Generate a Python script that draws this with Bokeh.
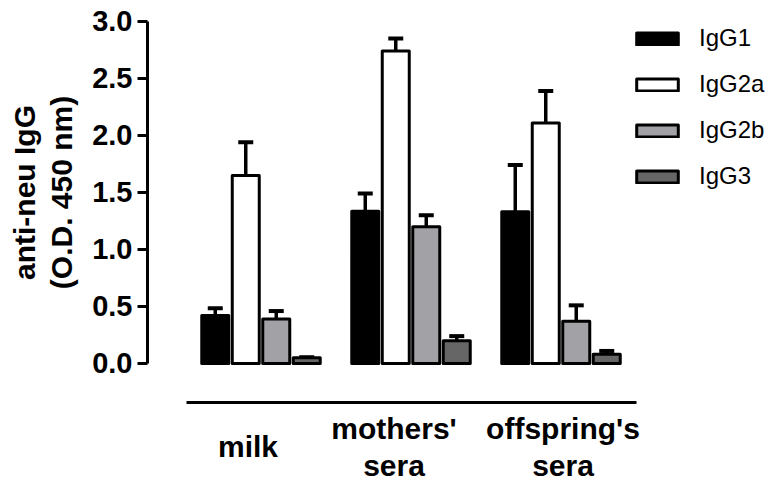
import numpy as np
from bokeh.plotting import figure
from bokeh.models import (ColumnDataSource, FixedTicker, Range1d, Whisker, TeeHead,
                          Legend, LegendItem, NumeralTickFormatter)
from bokeh.embed import file_html
from bokeh.resources import INLINE

# sample groups and IgG subclasses
groups = ["milk", "mothers'\nsera", "offspring's\nsera"]
isotypes = ["IgG1", "IgG2a", "IgG2b", "IgG3"]

# mean O.D. at 450 nm per group (milk, mothers' sera, offspring's sera)
igg1 = [0.42, 1.335, 1.33]
igg2a = [1.65, 2.74, 2.11]
igg2b = [0.39, 1.20, 0.37]
igg3 = [0.05, 0.20, 0.08]

# upper error (SEM)
igg1_err = [0.065, 0.155, 0.41]
igg2a_err = [0.29, 0.11, 0.28]
igg2b_err = [0.07, 0.10, 0.14]
igg3_err = [0.005, 0.04, 0.03]

y_ticks = [0.0, 0.5, 1.0, 1.5, 2.0, 2.5, 3.0]
y_title = "anti-neu IgG\n(O.D. 450 nm)"

means = [igg1, igg2a, igg2b, igg3]
errors = [igg1_err, igg2a_err, igg2b_err, igg3_err]
fills = ["#000000", "#ffffff", "#a1a1a6", "#666666"]

FONT = "Liberation Sans"

# the plotting frame spans the whole canvas; axes sit at fixed data locations
p = figure(width=778, height=482,
           x_range=Range1d(-1.7367, 3.45), y_range=Range1d(-1.0439, 3.184),
           min_border=0, output_backend="svg", toolbar_location=None)
p.outline_line_color = None
p.xgrid.visible = False
p.ygrid.visible = False
p.background_fill_color = "white"
p.border_fill_color = "white"

pitch = 0.2033
bar_w = 0.18
group_x = np.arange(len(groups), dtype=float)
y_axis_x = -0.7567
x_rule_y = -0.342

items = []
for k, name in enumerate(isotypes):
    xs = group_x + (k - 1.5) * pitch
    src = ColumnDataSource(dict(x=xs, top=means[k],
                                upper=np.array(means[k]) + np.array(errors[k])))
    w = Whisker(source=src, base="x", lower="top", upper="upper", dimension="height",
                line_color="black", line_width=3.5,
                upper_head=TeeHead(size=15, line_width=4, line_color="black"),
                lower_head=None)
    p.add_layout(w)
    r = p.vbar(x="x", top="top", bottom=0, width=bar_w, source=src,
               fill_color=fills[k], line_color="black", line_width=3, line_join="round")
    items.append(LegendItem(label=name, renderers=[r]))

legend = Legend(items=items, location=(631, 292),
                glyph_width=52, glyph_height=15, label_standoff=16,
                spacing=18, padding=0, margin=0,
                label_text_font=FONT, label_text_font_size="24px",
                label_text_color="black",
                border_line_color=None, background_fill_alpha=0)
p.add_layout(legend)

# y axis
ya = p.yaxis[0]
ya.fixed_location = y_axis_x
ya.bounds = (0, 3)
ya.ticker = FixedTicker(ticks=y_ticks)
ya.formatter = NumeralTickFormatter(format="0.0")
ya.major_label_text_font = FONT
ya.major_label_text_font_style = "bold"
ya.major_label_text_font_size = "29px"
ya.major_label_text_color = "black"
ya.major_label_standoff = 5
ya.major_tick_out = 10
ya.major_tick_in = 0
ya.minor_tick_out = 0
ya.minor_tick_in = 0
ya.axis_line_width = 3
ya.major_tick_line_width = 3
ya.axis_line_color = "black"

# x axis: plain rule under the groups
xa = p.xaxis[0]
xa.fixed_location = x_rule_y
xa.bounds = (-0.5, 2.5)
xa.ticker = FixedTicker(ticks=[])
xa.major_tick_out = 0
xa.minor_tick_out = 0
xa.axis_line_width = 3
xa.axis_line_color = "black"

# group names under the rule (hand-nudged horizontally)
label_src = ColumnDataSource(dict(x=group_x, y=[-0.73] * len(groups), text=groups,
                                  dx=[-13, -17, 2]))
p.text(x="x", y="y", text="text", x_offset="dx", source=label_src,
       text_align="center", text_baseline="middle",
       text_font={"value": FONT}, text_font_style="bold", text_font_size="30px",
       text_line_height=1.12, text_color="black")

# y title, centred on the axis span
p.text(x=[-1.453], y=[1.5], text=[y_title], angle=np.pi / 2,
       text_align="center", text_baseline="middle",
       text_font={"value": FONT}, text_font_style="bold", text_font_size="30px",
       text_line_height=1.12, text_color="black")

open("out.html", "w").write(file_html(p, INLINE))
